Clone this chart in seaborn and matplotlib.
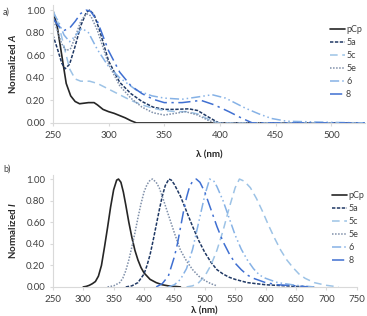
import matplotlib
matplotlib.use("Agg")
import matplotlib.pyplot as plt
import seaborn as sns
import pandas as pd

# absorption spectra (top)
absPcpX = [250, 254, 258, 262, 266, 270, 274, 278, 282, 287, 290, 295, 300, 305, 310, 315, 320, 325, 530]
absPcpY = [1.0, 0.85, 0.6, 0.35, 0.24, 0.19, 0.17, 0.175, 0.18, 0.18, 0.16, 0.12, 0.1, 0.085, 0.065, 0.045, 0.02, 0.0, 0.0]
abs5aX = [250, 254, 258, 261, 265, 270, 275, 280, 283, 287, 292, 300, 310, 320, 330, 340, 350, 360, 372, 380, 390, 399, 530]
abs5aY = [0.78, 0.66, 0.53, 0.48, 0.52, 0.68, 0.86, 0.98, 1.0, 0.96, 0.82, 0.55, 0.36, 0.26, 0.19, 0.14, 0.12, 0.12, 0.125, 0.11, 0.05, 0.0, 0.0]
abs5cX = [250, 255, 260, 265, 270, 275, 283, 290, 300, 310, 320, 330, 340, 350, 360, 370, 380, 390, 398, 530]
abs5cY = [1.0, 0.88, 0.68, 0.48, 0.39, 0.37, 0.37, 0.35, 0.3, 0.25, 0.2, 0.16, 0.13, 0.11, 0.1, 0.1, 0.08, 0.03, 0.0, 0.0]
abs5eX = [250, 254, 258, 262, 266, 270, 275, 280, 284, 290, 300, 310, 320, 330, 340, 350, 360, 369, 380, 390, 397, 530]
abs5eY = [0.93, 0.82, 0.7, 0.64, 0.66, 0.76, 0.9, 0.97, 0.95, 0.82, 0.52, 0.33, 0.22, 0.14, 0.09, 0.07, 0.085, 0.1, 0.07, 0.02, 0.0, 0.0]
abs6X = [250, 255, 260, 265, 270, 276, 282, 290, 300, 310, 325, 339, 350, 366, 380, 393, 405, 415, 423, 435, 446, 460, 480, 500, 530]
abs6Y = [0.98, 0.9, 0.78, 0.72, 0.77, 0.84, 0.8, 0.65, 0.5, 0.4, 0.29, 0.24, 0.22, 0.21, 0.23, 0.25, 0.22, 0.17, 0.13, 0.08, 0.04, 0.015, 0.01, 0.005, 0.0]
abs8X = [250, 255, 260, 265, 270, 275, 280, 284, 290, 300, 310, 320, 330, 340, 350, 366, 383, 395, 408, 420, 429, 530]
abs8Y = [0.93, 0.86, 0.82, 0.84, 0.9, 0.97, 1.0, 0.99, 0.9, 0.64, 0.45, 0.33, 0.26, 0.21, 0.18, 0.18, 0.2, 0.16, 0.1, 0.04, 0.0, 0.0]

# emission spectra (bottom)
emPcpX = [300, 305, 310, 315, 320, 325, 330, 335, 340, 345, 350, 355, 358, 362, 366, 370, 375, 380, 385, 390, 395, 400, 410, 420, 430, 440, 450, 460]
emPcpY = [0.0, 0.005, 0.015, 0.03, 0.05, 0.1, 0.2, 0.37, 0.55, 0.74, 0.9, 0.99, 1.0, 0.97, 0.88, 0.76, 0.6, 0.46, 0.34, 0.25, 0.18, 0.13, 0.07, 0.04, 0.02, 0.01, 0.005, 0.0]
em5aX = [370, 380, 390, 400, 405, 410, 415, 420, 425, 430, 435, 441, 445, 450, 460, 470, 480, 490, 500, 510, 520, 530, 540, 550, 570, 600, 650, 680]
em5aY = [0.0, 0.01, 0.04, 0.12, 0.2, 0.3, 0.43, 0.57, 0.71, 0.84, 0.94, 1.0, 0.99, 0.95, 0.84, 0.7, 0.56, 0.43, 0.32, 0.23, 0.16, 0.12, 0.09, 0.07, 0.04, 0.02, 0.005, 0.0]
em5cX = [470, 480, 490, 500, 510, 520, 530, 540, 550, 557, 565, 575, 585, 595, 605, 615, 625, 635, 645, 655, 665, 680, 700, 720]
em5cY = [0.0, 0.01, 0.04, 0.1, 0.2, 0.34, 0.52, 0.73, 0.92, 1.0, 0.98, 0.92, 0.82, 0.7, 0.57, 0.45, 0.34, 0.25, 0.18, 0.12, 0.08, 0.04, 0.015, 0.0]
em5eX = [340, 350, 360, 365, 370, 375, 380, 385, 390, 395, 400, 405, 410, 414, 420, 425, 430, 440, 450, 460, 470, 480, 490, 500, 510, 520]
em5eY = [0.0, 0.01, 0.04, 0.08, 0.15, 0.25, 0.37, 0.5, 0.64, 0.77, 0.88, 0.95, 0.99, 1.0, 0.97, 0.92, 0.84, 0.67, 0.5, 0.34, 0.24, 0.16, 0.1, 0.06, 0.03, 0.01]
em6X = [440, 450, 460, 470, 480, 490, 500, 508, 515, 520, 530, 540, 550, 560, 570, 580, 590, 600, 620, 650, 680]
em6Y = [0.0, 0.02, 0.07, 0.17, 0.35, 0.6, 0.85, 1.0, 0.98, 0.93, 0.8, 0.64, 0.48, 0.35, 0.25, 0.17, 0.11, 0.08, 0.04, 0.015, 0.0]
em8X = [420, 430, 440, 450, 455, 460, 465, 470, 475, 480, 486, 492, 500, 510, 520, 530, 540, 550, 560, 570, 580, 600, 620, 650, 670]
em8Y = [0.0, 0.03, 0.1, 0.28, 0.4, 0.55, 0.7, 0.83, 0.93, 0.98, 1.0, 0.97, 0.88, 0.72, 0.56, 0.42, 0.31, 0.22, 0.16, 0.11, 0.08, 0.04, 0.02, 0.01, 0.0]

names = ["pCp", "5a", "5c", "5e", "6", "8"]
absData = [(absPcpX, absPcpY), (abs5aX, abs5aY), (abs5cX, abs5cY), (abs5eX, abs5eY), (abs6X, abs6Y), (abs8X, abs8Y)]
emData = [(emPcpX, emPcpY), (em5aX, em5aY), (em5cX, em5cY), (em5eX, em5eY), (em6X, em6Y), (em8X, em8Y)]

colors = ["#262626", "#1f3864", "#9dc3e6", "#7f8fa9", "#86b2e6", "#3f6fd1"]
styles = ["-", (0, (2.2, 1)), (0, (5, 3)), (0, (1, 1)), (0, (6, 2, 1, 2, 1, 2)), (0, (8, 3, 1.5, 3))]
widths = [1.2, 1.1, 1.1, 1.1, 1.1, 1.1]

sns.set_style("white")
plt.rcParams["font.family"] = ["Lato", "DejaVu Sans"]
plt.rcParams["mathtext.fontset"] = "custom"
plt.rcParams["mathtext.it"] = "Lato:italic:bold"
plt.rcParams["mathtext.rm"] = "Lato:bold"

fig = plt.figure(figsize=(3.67, 3.16), dpi=100)
axTop = fig.add_axes([0.144, 0.611, 0.850, 0.373])
axBot = fig.add_axes([0.144, 0.092, 0.828, 0.354])


def drawPanel(ax, data, xlim, ylim, xticks, ylabel, legPos, xpad):
    for i, (xs, ys) in enumerate(data):
        df = pd.DataFrame({"x": xs, "y": ys})
        sns.lineplot(data=df, x="x", y="y", ax=ax, color=colors[i], linestyle=styles[i],
                     linewidth=widths[i], label=names[i])
    ax.set_xlim(xlim)
    ax.set_ylim(ylim)
    ax.set_xticks(xticks)
    ax.set_yticks([0, 0.2, 0.4, 0.6, 0.8, 1.0])
    ax.set_yticklabels(["%.2f" % v for v in [0, 0.2, 0.4, 0.6, 0.8, 1.0]])
    for side in ["top", "right"]:
        ax.spines[side].set_visible(False)
    for side in ["left", "bottom"]:
        ax.spines[side].set_color("#d9d9d9")
        ax.spines[side].set_linewidth(0.8)
    ax.tick_params(axis="both", labelsize=7, colors="#d9d9d9", labelcolor="#404040",
                   length=2.5, width=0.8, direction="out", bottom=True, left=True, pad=3)
    ax.set_xlabel("λ (nm)", fontsize=7, fontweight="bold", color="#262626", labelpad=xpad)
    ax.set_ylabel(ylabel, fontsize=7, fontweight="bold", color="#262626", labelpad=6)
    ax.legend(loc="upper left", bbox_to_anchor=legPos, frameon=False, fontsize=6.5,
              handlelength=1.6, handletextpad=0.15, labelspacing=0.45, borderpad=0,
              labelcolor="#404040")


drawPanel(axTop, absData, (250, 530), (0, 1.045), [250, 300, 350, 400, 450, 500],
          r"Normalized $A$", (0.875, 0.87), 8)
drawPanel(axBot, emData, (250, 750), (0, 1.037), list(range(250, 751, 50)),
          r"Normalized $I$", (0.905, 0.9), 2)

fig.text(0.008, 0.975, "a)", fontsize=6.5, color="#404040", va="top")
fig.text(0.008, 0.478, "b)", fontsize=6.5, color="#404040", va="top")

fig.savefig("out.png", dpi=100)
